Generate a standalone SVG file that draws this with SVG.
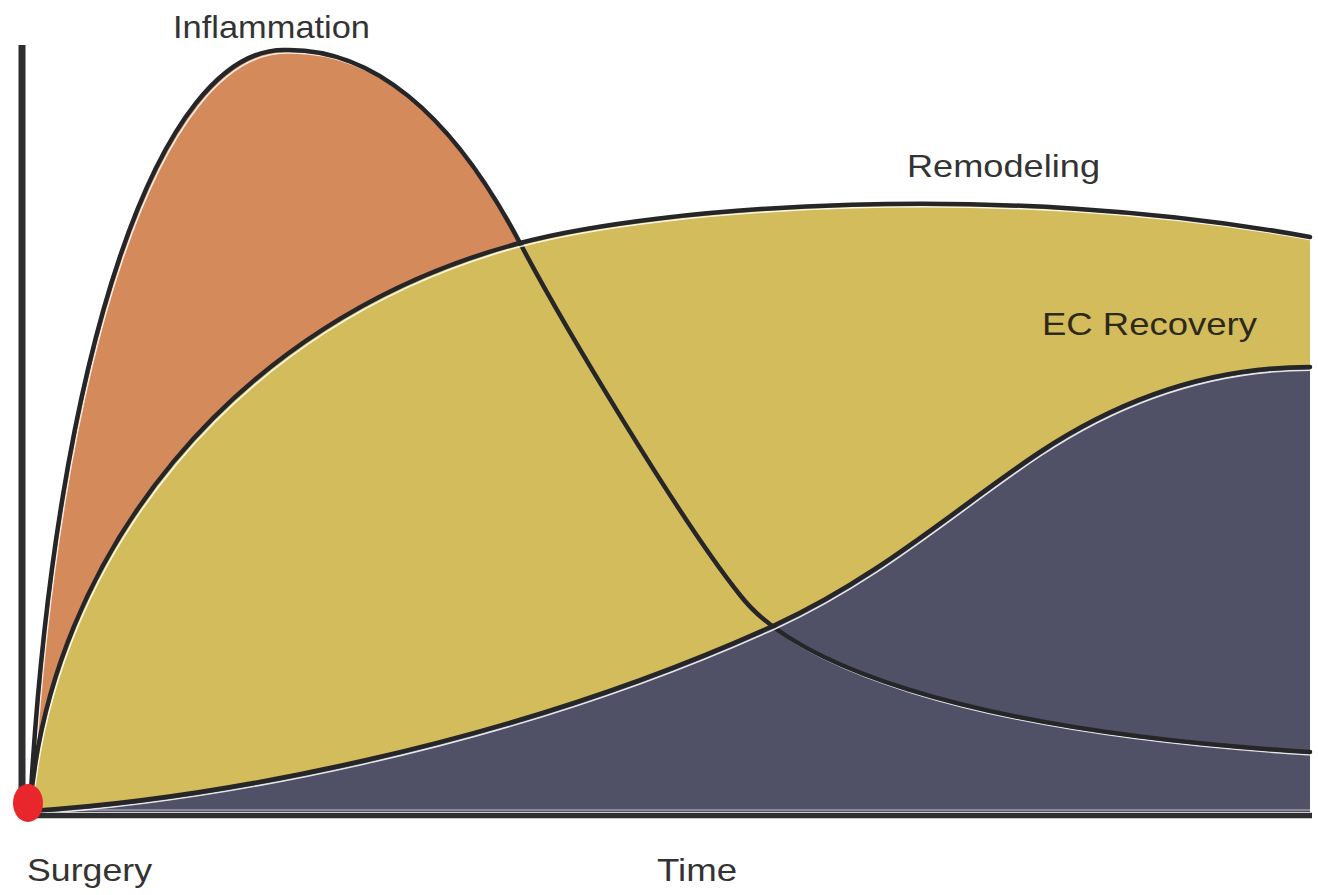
<svg xmlns="http://www.w3.org/2000/svg" width="1318" height="895" viewBox="0 0 1318 895">
  <style>
    .lbl { font-family: "Liberation Sans", Arial, sans-serif; font-size: 32px; fill: #333333; }
    .curve { fill: none; stroke: #262628; stroke-width: 4.5; stroke-linecap: round; }
    .hl { fill: none; stroke: #ffffff; stroke-width: 1.6; opacity: 0.85; }
    .axis { stroke: #2e2e30; stroke-linecap: butt; }
  </style>
  <defs>
    <path id="p-infl" d="M30,808 C55,350 160,48 285,50 C370,48 450,110 520,243 C562,323 680,520 740,595 C790,660 950,730 1310,752"/>
    <path id="p-remo" d="M30,808 C50,560 230,320 520,243 C660,206 1000,180 1310,237"/>
    <path id="p-ec" d="M30,811 C200,800 500,750 775,625 C880,577 960,505 1040,452 C1120,399 1210,367 1310,367"/>
  </defs>

  <rect width="1318" height="895" fill="#ffffff"/>

  <g id="fills">
    <path id="fill-inflammation" fill="#D48A5A" d="M30,808 C55,350 160,48 285,50 C370,48 450,110 520,243 C562,323 680,520 740,595 C790,660 950,730 1310,752 L1310,812 L30,812 Z"/>
    <path id="fill-remodeling" fill="#D3BC5C" d="M30,808 C50,560 230,320 520,243 C660,206 1000,180 1310,237 L1310,812 L30,812 Z"/>
    <path id="fill-ec" fill="#505066" d="M30,811 C200,800 500,750 775,625 C880,577 960,505 1040,452 C1120,399 1210,367 1310,367 L1310,812 L30,812 Z"/>
    <line x1="60" y1="810" x2="1310" y2="810" stroke="#9c9cae" stroke-width="1.5"/>
  </g>

  <g id="connectors">
    <g id="inflammation-curve">
      <use href="#p-infl" class="hl" transform="translate(2.5,3)"/>
      <use href="#p-infl" class="curve"/>
    </g>
    <g id="remodeling-curve">
      <use href="#p-remo" class="hl" transform="translate(2.5,3)"/>
      <use href="#p-remo" class="curve"/>
    </g>
    <g id="ec-curve">
      <use href="#p-ec" class="hl" transform="translate(1.5,3.2)"/>
      <use href="#p-ec" class="curve"/>
    </g>
  </g>

  <g id="axes">
    <line class="axis" x1="22" y1="45" x2="22" y2="818" stroke-width="7"/>
    <line class="axis" x1="20" y1="815.5" x2="1312" y2="815.5" stroke-width="5.5"/>
  </g>

  <g id="surgery-point">
    <ellipse cx="28" cy="803" rx="15" ry="19" fill="#E8262B"/>
  </g>

  <g id="labels">
    <text id="label-inflammation" class="lbl" x="173" y="38" textLength="197" lengthAdjust="spacingAndGlyphs">Inflammation</text>
    <text id="label-remodeling" class="lbl" x="907" y="177" textLength="193" lengthAdjust="spacingAndGlyphs">Remodeling</text>
    <text id="label-ec" class="lbl" x="1042" y="335" textLength="215" lengthAdjust="spacingAndGlyphs" style="fill:#2e2a1a">EC Recovery</text>
    <text id="label-surgery" class="lbl" x="27" y="881" textLength="125" lengthAdjust="spacingAndGlyphs">Surgery</text>
    <text id="label-time" class="lbl" x="657" y="881" textLength="80" lengthAdjust="spacingAndGlyphs">Time</text>
  </g>
</svg>
